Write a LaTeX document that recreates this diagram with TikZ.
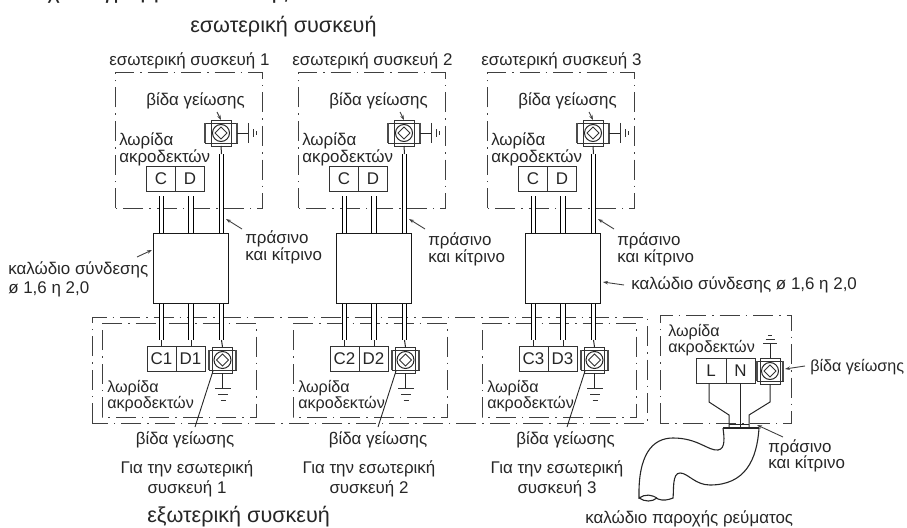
\documentclass[tikz,border=0pt]{standalone}
\usepackage{fontspec}
\setmainfont{Liberation Sans}
\usetikzlibrary{arrows.meta}
\def\p{0.75pt}
\tikzset{
  txt/.style={inner sep=0pt,anchor=base west,font=\fontsize{12.7pt}{15pt}\selectfont,text=black!85},
  ctxt/.style={txt,anchor=base},
  small/.style={txt,font=\fontsize{12.1pt}{15pt}\selectfont},
  big/.style={txt,font=\fontsize{16.2pt}{19pt}\selectfont},
  term/.style={draw=black!80,line width=0.8*\p,inner sep=0pt,minimum height=25*\p,font=\fontsize{12.7pt}{15pt}\selectfont,text=black!85},
  ddbox/.style={draw=black!75,line width=1*\p,dash pattern=on 20*\p off 6*\p on 1.5*\p off 6*\p},
  tube/.style={draw=black,line width=1*\p,double=white,double distance=3.6*\p},
  wire/.style={draw=black!85,line width=1*\p},
  lead/.style={draw=black!75,line width=0.9*\p,-{Stealth[length=5*\p,width=3.5*\p]}},
  plain/.style={draw=black!80,line width=0.8*\p},
  cab/.style={draw=black!85,line width=1.1*\p},
  heavy/.style={draw=black!70,line width=1.8*\p},
}
% #1 name, #2 x, #3 y, #4 half width
\newcommand{\screwbox}[4]{%
  \pgfmathsetmacro\sx{#2}%
  \draw[plain] ({\sx-#4},{#3-10}) rectangle ({\sx+#4},{#3+10});
  \draw[heavy] ({\sx-#4},{#3-10}) -- ({\sx-#4},{#3+10}) ({\sx+#4},{#3-10}) -- ({\sx+#4},{#3+10});
  \draw[plain] ({\sx-10},{#3-10}) -- ({\sx-10},{#3+10}) ({\sx+10},{#3-10}) -- ({\sx+10},{#3+10});
  \draw[plain,fill=white] ({\sx-10},{#3-13}) rectangle ({\sx+10},{#3-10});
  \draw[plain,fill=white] ({\sx-10},{#3+10}) rectangle ({\sx+10},{#3+13});
  \node[circle,draw=black!85,line width=1*\p,minimum size=17*\p,inner sep=0pt] (#1) at (\sx,#3) {};
  \draw[plain] ({\sx-6},#3) -- (\sx,{#3-6}) -- ({\sx+6},#3) -- (\sx,{#3+6}) -- cycle;
  \coordinate (#1top) at (\sx,{#3-13});
  \coordinate (#1bot) at (\sx,{#3+13});
  \coordinate (#1r) at ({\sx+#4},#3);
}
% #1 id, #2 offset, #3 inner-box offset, #4 digit, #5 label shift, #6 green baseline
\newcommand{\unitblock}[6]{%
  \node[txt] (ulab#1) at ({109+#2},66) {εσωτερική συσκευή #4};
  \draw[ddbox] ({115+#2},208) -- ({115+#2},73) -- ({262+#2},73) -- ({262+#2},208) -- cycle;
  \node[ctxt] (uscr#1) at ({195.5+#2},106) {βίδα γείωσης};
  \node[txt] (ustrA#1) at ({119+#2},145) {λωρίδα};
  \node[txt] (ustrB#1) at ({119+#2},162) {ακροδεκτών};
  \node[term,minimum width=29*\p] (uc#1) at ({161+#2},178.5) {C};
  \node[term,minimum width=29*\p] (ud#1) at ({190+#2},178.5) {D};
  \screwbox{us#1}{221+#2}{133}{16}
  \draw[lead] ({217+#2},112) -- (us#1top);
  \draw[wire] (us#1r) -- ({248+#2},133) coordinate (ue#1);
  \draw[plain] ({248+#2},123) -- ({248+#2},143) ({253+#2},129) -- ({253+#2},137) ({256+#2},131) -- ({256+#2},135);
  \node[draw=black!90,line width=1*\p,fill=white,minimum width=74.5*\p,minimum height=70*\p,inner sep=0pt] (cb#1) at ({190.75+#2},268) {};
  \draw[tube] ({161.5+#2},196) -- ({161.5+#2},0 |- cb#1.north);
  \draw[tube] ({191+#2},196) -- ({191+#2},0 |- cb#1.north);
  \draw[tube] ({221.5+#2},154) -- ({221.5+#2},0 |- cb#1.north);
  \draw[wire] ({221.5+#2},154) -- (us#1bot);
  \coordinate (ga#1) at ({242+#5+#2},229);
  \draw[lead] (ga#1) -- ({226+#2},219);
  \node[txt] (gr#1) at ({245+#5+#2},#6) {πράσινο};
  \node[txt] (gs#1) at ({245+#5+#2},{#6+17}) {και κίτρινο};
  % lower part
  \draw[ddbox] ({102+#3},323) -- ({256+#3},323) -- ({256+#3},417) -- ({102+#3},417) -- cycle;
  \node[term,minimum width=29*\p] (lc#1) at ({161.5+#2},358.5) {C#4};
  \node[term,minimum width=29*\p] (ld#1) at ({190.5+#2},358.5) {D#4};
  \screwbox{ls#1}{222.5+#2}{360}{13.5}
  \draw[tube] ({161.5+#2},0 |- cb#1.south) -- ({161.5+#2},340);
  \draw[tube] ({191+#2},0 |- cb#1.south) -- ({191+#2},340);
  \draw[tube] ({221.5+#2},0 |- cb#1.south) -- ({221.5+#2},340);
  \draw[wire] ({161.5+#2},340) -- ({161.5+#2},0 |- lc#1.north);
  \draw[wire] ({191+#2},340) -- ({191+#2},0 |- ld#1.north);
  \draw[wire] ({221.5+#2},340) -- (ls#1top);
  \draw[wire] (ls#1bot) -- ({222.5+#2},388);
  \draw[plain] ({215+#2},388) -- ({231+#2},388) ({218+#2},394) -- ({228+#2},394) ({220.5+#2},400) -- ({225.5+#2},400);
  \node[small] (lstrA#1) at ({107+#3},392) {λωρίδα};
  \node[small] (lstrB#1) at ({107+#3},408) {ακροδεκτών};
  \coordinate (lk#1) at ({195+#2},427);
  \draw[wire,line width=0.9*\p] (lk#1) -- ({213+#2},371);
}
\begin{document}
\begin{tikzpicture}[x=0.75pt,y=-0.75pt]
\useasboundingbox (0,0) rectangle (907,528);
\node[big,font=\fontsize{17.5pt}{19pt}\selectfont] (head) at (33,-1) {Σχεδιάγραμμα σύνδεσης};
\node[big] (title) at (190,33) {εσωτερική συσκευή};
\draw[ddbox] (92,423) -- (92,317) -- (647,317) -- (647,423) -- cycle;
\unitblock{a}{0}{0}{1}{0}{243}
\unitblock{b}{183}{191}{2}{0}{245}
\unitblock{c}{372}{380}{3}{0}{245}
% labels of connecting cables
\node[txt] (cl1) at (8,274) {καλώδιο σύνδεσης};
\node[txt] (cl2) at (8,293) {ø 1,6 η 2,0};
\coordinate (cl1a) at (137,257);
\draw[lead] (cl1a) -- (152,250);
\coordinate (cl3a) at (624,285);
\draw[lead] (cl3a) -- (603,282);
\node[txt] (cl3) at (631,289) {καλώδιο σύνδεσης ø 1,6 η 2,0};
% bottom labels
\foreach \n/\x/\y in {1/185/187,2/378/369,3/565.5/557}{
  \node[ctxt] (bv\n) at (\x,444) {βίδα γείωσης};
  \node[ctxt] (bg\n) at (\y,473) {Για την εσωτερική};
  \node[ctxt] (bs\n) at (\y,493) {συσκευή \n};
}
\node[big] (outdoor) at (147,522) {εξωτερική συσκευή};
% power supply block
\draw[ddbox] (660,423) -- (660,315) -- (791,315) -- (791,423) -- cycle;
\node[small] (pA) at (668,336) {λωρίδα};
\node[small] (pB) at (668,352) {ακροδεκτών};
\node[term,minimum width=30*\p] (L) at (711,370.5) {L};
\node[term,minimum width=29*\p] (N) at (740.5,370.5) {N};
\screwbox{ps}{770}{371}{13}
\draw[wire] (pstop) -- (770,343);
\draw[plain] (763,343) -- (777,343) (765.5,339) -- (774.5,339) (768,335) -- (772,335);
\node[small] (pv) at (810,371) {βίδα γείωσης};
\coordinate (pva) at (805,366);
\draw[lead] (pva) -- (785,369);
\coordinate (ctl) at (723,428);
\coordinate (ctr) at (759,428);
\draw[wire] (709,0 |- L.south) -- (709,402) -- (729,415) -- (729,428);
\draw[wire] (740,0 |- N.south) -- (740,428);
\draw[wire] (psbot) -- (770,402) -- (749,415) -- (749,428);
\draw[wire] (729,424) -- (749,424);
\draw[cab] (ctl) -- (ctr);
\draw[cab] (ctl) .. controls (724,436) and (726,449) .. (718,450)
  .. controls (708,451) and (698,438) .. (673,438)
  .. controls (652,438) and (638,455) .. (639,498)
  .. controls (645,494) and (652,494) .. (658,499)
  .. controls (663,501) and (668,500) .. (673,498)
  .. controls (674,490) and (672,473) .. (680,473)
  .. controls (688,473) and (695,485) .. (710,485)
  .. controls (745,485) and (757,460) .. (ctr);
\draw[cab] (639,498) .. controls (645,502) and (652,502) .. (657,498);
\coordinate (pga) at (783,437);
\draw[lead] (pga) -- (757,425);
\node[txt] (pg1) at (768,452) {πράσινο};
\node[txt] (pg2) at (768,468) {και κίτρινο};
\node[txt] (psup) at (585,523) {καλώδιο παροχής ρεύματος};
\end{tikzpicture}
\end{document}
